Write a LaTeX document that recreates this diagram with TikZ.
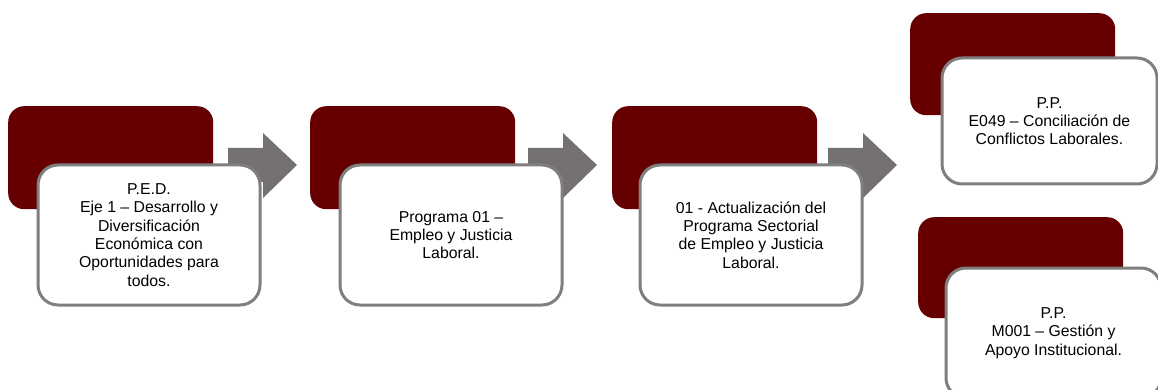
\documentclass[tikz,border=0pt]{standalone}
\usepackage{fontspec}
\setmainfont{Liberation Sans}
\usetikzlibrary{calc}
\definecolor{darkred}{HTML}{660000}
\definecolor{arrowgray}{HTML}{767171}
\definecolor{bordergray}{HTML}{7F7F7F}
\begin{document}
\begin{tikzpicture}[x=1pt,y=-1pt,
  back/.style={fill=darkred, draw=none, rounded corners=16pt, anchor=north west, minimum width=205pt, minimum height=103pt, inner sep=0pt},
  front/.style={draw=bordergray, line width=3pt, fill=white, rounded corners=20pt, anchor=north west, minimum width=222pt, minimum height=140pt, inner sep=0pt, align=center, font=\fontsize{15.8}{18.3}\selectfont},
  front2/.style={front, minimum width=215pt, minimum height=126pt},
  blockarrow/.style={fill=arrowgray, draw=none}
]
\useasboundingbox (0,0) rectangle (1158,390);
\clip (0,0) rectangle (1158,390);

% back boxes
\node[back] (d1) at (8,106) {};
\node[back] (d2) at (310,106) {};
\node[back] (d3) at (612,106) {};
\node[back, minimum height=102pt] (d4) at (910,13) {};
\node[back, minimum height=101pt] (d5) at (918,217) {};

% arrows
\foreach \x/\n in {228/a1,528/a2,828/a3}{
  \coordinate (\n) at (\x,165);
  \fill[blockarrow] ($(\n)+(0,-17)$) -- ++(35,0) -- ++(0,-15) -- ++(34,32) -- ++(-34,33) -- ++(0,-16) -- ++(-35,0) -- cycle;
}

% front boxes
\node[front] (w1) at (36.5,163.5) {P.E.D.\\Eje 1 – Desarrollo y\\Diversificación\\Económica con\\Oportunidades para\\todos.};
\node[front] (w2) at (338.5,163.5) {Programa 01 –\\Empleo y Justicia\\Laboral.};
\node[front] (w3) at (638.5,163.5) {01 - Actualización del\\Programa Sectorial\\de Empleo y Justicia\\Laboral.};
\node[front2] (w4) at (940.5,56.5) {P.P.\\E049 – Conciliación de\\Conflictos Laborales.};
\node[front2, minimum height=130pt] (w5) at (944.5,266.5) {P.P.\\M001 – Gestión y\\Apoyo Institucional.};
\end{tikzpicture}
\end{document}
